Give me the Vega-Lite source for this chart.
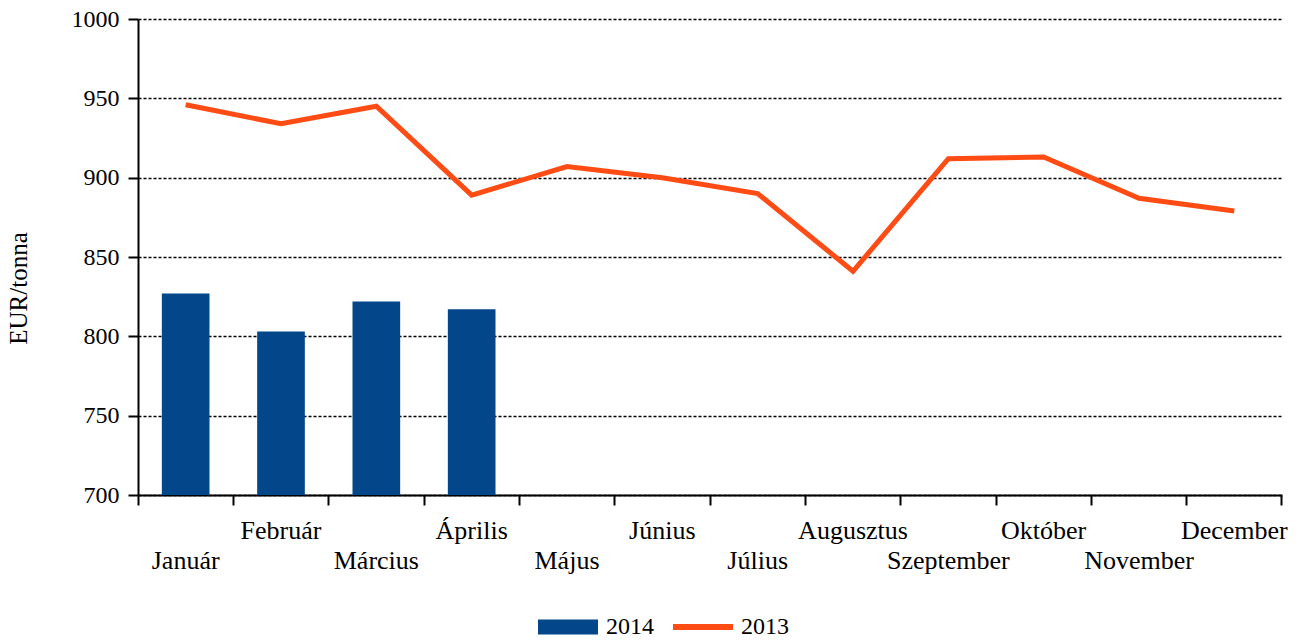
{
  "$schema": "https://vega.github.io/schema/vega-lite/v6.json",
  "width": 1144,
  "height": 476,
  "autosize": {"type": "none"},
  "padding": {"left": 138, "top": 19, "right": 16, "bottom": 146},
  "background": "white",
  "config": {
    "font": "Liberation Serif",
    "view": {"stroke": null},
    "axis": {"labelFont": "Liberation Serif", "titleFont": "Liberation Serif", "labelColor": "black", "titleColor": "black"},
    "legend": {"labelFont": "Liberation Serif", "labelColor": "black"}
  },
  "data": {
    "values": [
      {"month": "Január", "series": "2014", "value": 827},
      {"month": "Február", "series": "2014", "value": 803},
      {"month": "Március", "series": "2014", "value": 822},
      {"month": "Április", "series": "2014", "value": 817},
      {"month": "Január", "series": "2013", "value": 946},
      {"month": "Február", "series": "2013", "value": 934},
      {"month": "Március", "series": "2013", "value": 945},
      {"month": "Április", "series": "2013", "value": 889},
      {"month": "Május", "series": "2013", "value": 907},
      {"month": "Június", "series": "2013", "value": 900},
      {"month": "Július", "series": "2013", "value": 890},
      {"month": "Augusztus", "series": "2013", "value": 841},
      {"month": "Szeptember", "series": "2013", "value": 912},
      {"month": "Október", "series": "2013", "value": 913},
      {"month": "November", "series": "2013", "value": 887},
      {"month": "December", "series": "2013", "value": 879}
    ]
  },
  "encoding": {
    "y": {
      "field": "value",
      "type": "quantitative",
      "scale": {"domain": [700, 1000], "nice": false, "zero": false},
      "axis": {
        "title": "EUR/tonna",
        "titleFontSize": 25,
        "titleFontWeight": "normal",
        "titlePadding": 40,
        "titleY": 269,
        "format": "d",
        "values": [700, 750, 800, 850, 900, 950, 1000],
        "labelFontSize": 24,
        "labelPadding": 9,
        "tickSize": 10,
        "tickWidth": 2,
        "tickColor": "black",
        "domainColor": "black",
        "domainWidth": 2,
        "grid": true,
        "gridColor": "black",
        "gridWidth": 1.5,
        "gridDash": [3, 2],
        "gridOpacity": 1
      }
    },
    "color": {
      "field": "series",
      "type": "nominal",
      "scale": {"domain": ["2014", "2013"], "range": ["#03468A", "#FF4B14"]},
      "legend": {
        "title": null,
        "orient": "none",
        "direction": "horizontal",
        "legendX": 400,
        "legendY": 578,
        "padding": 0,
        "symbolSize": 3600,
        "symbolStrokeWidth": 0,
        "labelFontSize": 24,
        "labelOffset": 8,
        "columnPadding": 19,
        "encode": {
          "symbols": {
            "update": {
              "shape": {"signal": "datum.value === '2014' ? 'M-1,-0.25H1V0.25H-1Z' : 'M-1,-0.1H1V0.1H-1Z'"},
              "fill": {"signal": "datum.value === '2014' ? '#03468A' : '#FF4B14'"},
              "strokeWidth": {"value": 0},
              "opacity": {"value": 1}
            }
          }
        }
      }
    }
  },
  "layer": [
    {
      "transform": [{"filter": "datum.series === '2014'"}],
      "mark": {"type": "bar", "width": {"band": 0.5}, "clip": true},
      "encoding": {
        "x": {
          "field": "month",
          "type": "nominal",
          "sort": ["Január", "Február", "Március", "Április", "Május", "Június", "Július", "Augusztus", "Szeptember", "Október", "November", "December"],
          "scale": {"paddingInner": 0, "paddingOuter": 0},
          "axis": {
            "title": null,
            "orient": "bottom",
            "labelAngle": 0,
            "bandPosition": 0,
            "labelFontSize": 26,
            "labelPadding": 12,
            "labelLineHeight": 30,
            "labelExpr": "indexof(['Február','Április','Június','Augusztus','Október','December'], datum.value) >= 0 ? datum.label : ['', datum.label]",
            "tickSize": 10,
            "tickWidth": 2,
            "tickColor": "black",
            "domainColor": "black",
            "domainWidth": 2,
            "labelOverlap": false,
            "grid": false
          }
        }
      }
    },
    {
      "transform": [{"filter": "datum.series === '2013'"}],
      "mark": {"type": "line", "strokeWidth": 5},
      "encoding": {
        "x": {
          "field": "month",
          "type": "nominal",
          "sort": ["Január", "Február", "Március", "Április", "Május", "Június", "Július", "Augusztus", "Szeptember", "Október", "November", "December"],
          "scale": {"paddingInner": 0, "paddingOuter": 0},
          "axis": {
            "title": null,
            "orient": "bottom",
            "values": ["December"],
            "bandPosition": 1,
            "labels": false,
            "domain": false,
            "grid": false,
            "tickSize": 10,
            "tickWidth": 2,
            "tickColor": "black"
          }
        }
      }
    }
  ],
  "resolve": {"scale": {"x": "shared"}, "axis": {"x": "independent"}}
}
